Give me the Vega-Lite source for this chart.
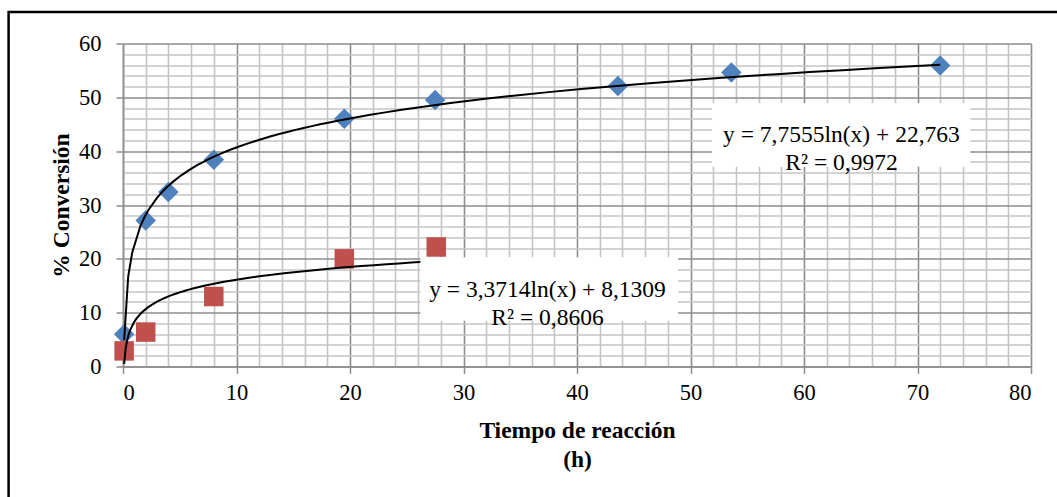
{
  "$schema": "https://vega.github.io/schema/vega-lite/v6.json",
  "width": 908,
  "height": 323,
  "autosize": {"type": "none"},
  "padding": {"left": 123, "top": 43.5, "right": 26, "bottom": 130.5},
  "background": "white",
  "config": {
    "view": {"stroke": null},
    "font": "Liberation Serif",
    "axis": {
      "labelFont": "Liberation Serif",
      "labelFontSize": 22.5,
      "labelColor": "black",
      "labelOverlap": false,
      "titleFont": "Liberation Serif",
      "titleFontSize": 23.5,
      "titleFontWeight": "bold",
      "titleColor": "black",
      "domainColor": "#8c8c8c",
      "domainWidth": 1.5,
      "gridWidth": 1.6,
      "tickSize": 7,
      "tickWidth": 1.5,
      "tickCount": 200,
      "format": "d"
    }
  },
  "data": {
    "values": [
      {"t": 0.1, "conv": 6.0, "serie": "A"},
      {"t": 2.0, "conv": 27.1, "serie": "A"},
      {"t": 4.0, "conv": 32.4, "serie": "A"},
      {"t": 8.0, "conv": 38.4, "serie": "A"},
      {"t": 19.5, "conv": 46.0, "serie": "A"},
      {"t": 27.5, "conv": 49.5, "serie": "A"},
      {"t": 43.6, "conv": 52.1, "serie": "A"},
      {"t": 53.6, "conv": 54.6, "serie": "A"},
      {"t": 72.0, "conv": 55.9, "serie": "A"},
      {"t": 0.1, "conv": 2.9, "serie": "B"},
      {"t": 2.0, "conv": 6.4, "serie": "B"},
      {"t": 8.0, "conv": 13.0, "serie": "B"},
      {"t": 19.5, "conv": 20.0, "serie": "B"},
      {"t": 27.6, "conv": 22.2, "serie": "B"}
    ]
  },
  "layer": [
    {
      "mark": {"type": "point", "filled": true, "opacity": 1},
      "encoding": {
        "x": {
          "field": "t", "type": "quantitative",
          "scale": {"domain": [0, 80], "nice": false, "zero": false},
          "axis": {
            "title": ["Tiempo de reacción", "(h)"],
            "titleLineHeight": 29,
            "titlePadding": 14,
            "labelPadding": 8,
            "tickCount": 200,
            "format": "d",
            "values": [0,2,4,6,8,10,12,14,16,18,20,22,24,26,28,30,32,34,36,38,40,42,44,46,48,50,52,54,56,58,60,62,64,66,68,70,72,74,76,78,80],
            "labelExpr": "datum.value % 10 === 0 ? datum.label : ''",
            "gridColor": {"condition": {"test": "datum.value % 10 === 0", "value": "#8c8c8c"}, "value": "#c4c4c4"},
            "tickColor": {"condition": {"test": "datum.value % 10 === 0", "value": "#8c8c8c"}, "value": "transparent"}
          }
        },
        "y": {
          "field": "conv", "type": "quantitative",
          "scale": {"domain": [0, 60], "nice": false},
          "axis": {
            "title": "% Conversión",
            "titlePadding": 5,
            "labelPadding": 15,
            "tickCount": 200,
            "format": "d",
            "values": [0,2,4,6,8,10,12,14,16,18,20,22,24,26,28,30,32,34,36,38,40,42,44,46,48,50,52,54,56,58,60],
            "labelExpr": "datum.value % 10 === 0 ? datum.label : ''",
            "gridColor": {"condition": {"test": "datum.value % 10 === 0", "value": "#8c8c8c"}, "value": "#c4c4c4"},
            "tickColor": {"condition": {"test": "datum.value % 10 === 0", "value": "#8c8c8c"}, "value": "transparent"}
          }
        },
        "color": {"field": "serie", "type": "nominal", "scale": {"domain": ["A", "B"], "range": ["#4F81BD", "#C0504D"]}, "legend": null},
        "shape": {"field": "serie", "type": "nominal", "scale": {"domain": ["A", "B"], "range": ["diamond", "square"]}, "legend": null},
        "size": {"field": "serie", "type": "nominal", "scale": {"domain": ["A", "B"], "range": [420, 380]}, "legend": null}
      }
    },
    {
      "transform": [
        {"regression": "conv", "on": "t", "method": "log", "groupby": ["serie"]}
      ],
      "mark": {"type": "line", "color": "black", "strokeWidth": 2},
      "encoding": {
        "x": {"field": "t", "type": "quantitative"},
        "y": {"field": "conv", "type": "quantitative"},
        "detail": {"field": "serie", "type": "nominal"}
      }
    },
    {
      "data": {"values": [{}]},
      "mark": {"type": "rect", "fill": "white", "stroke": null},
      "encoding": {
        "x": {"datum": 51.9}, "x2": {"datum": 74.65},
        "y": {"datum": 48.9}, "y2": {"datum": 37.1}
      }
    },
    {
      "data": {"values": [{}]},
      "mark": {"type": "rect", "fill": "white", "stroke": null},
      "encoding": {
        "x": {"datum": 26.2}, "x2": {"datum": 48.9},
        "y": {"datum": 20.3}, "y2": {"datum": 8.5}
      }
    },
    {
      "data": {"values": [{}]},
      "mark": {"type": "text", "font": "Liberation Serif", "fontSize": 23.5, "color": "black", "align": "center", "baseline": "middle", "lineHeight": 28.4,
        "text": ["y = 7,7555ln(x) + 22,763", "R² = 0,9972"]},
      "encoding": {
        "x": {"datum": 63.3},
        "y": {"datum": 43.05}
      }
    },
    {
      "data": {"values": [{}]},
      "mark": {"type": "text", "font": "Liberation Serif", "fontSize": 23.5, "color": "black", "align": "center", "baseline": "middle", "lineHeight": 28,
        "text": ["y = 3,3714ln(x) + 8,1309", "R² = 0,8606"]},
      "encoding": {
        "x": {"datum": 37.4},
        "y": {"datum": 14.2}
      }
    },
    {
      "data": {"values": [{}]},
      "mark": {"type": "rect", "fill": null, "stroke": "black", "strokeWidth": 2.5, "clip": false},
      "encoding": {
        "x": {"datum": -10.08}, "x2": {"datum": 84},
        "y": {"datum": 65.85}, "y2": {"datum": -26}
      }
    }
  ]
}
